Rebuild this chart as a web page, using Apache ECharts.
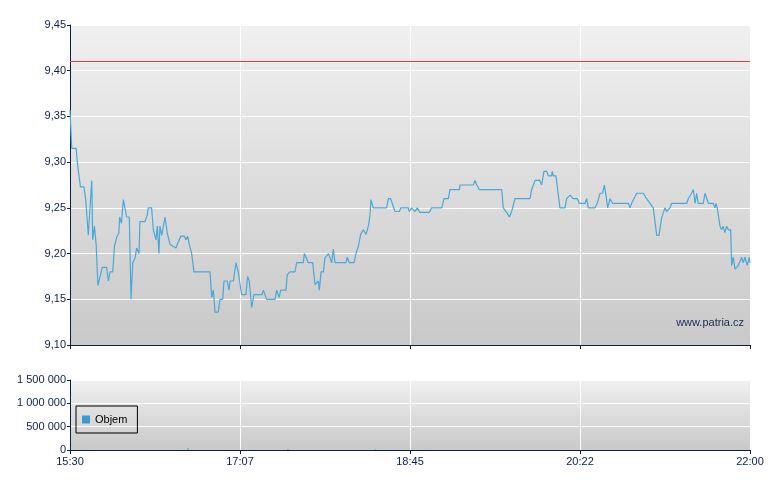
<!DOCTYPE html>
<html><head><meta charset="utf-8">
<script src="https://cdn.jsdelivr.net/npm/echarts@6/dist/echarts.min.js"></script>
<style>html,body{margin:0;padding:0;background:#fff}#c{width:780px;height:490px}</style>
</head><body><div id="c"></div>
<script>
const xTickLabels = ['15:30','17:07','18:45','20:22','22:00'];
const yTicks = [9.10,9.15,9.20,9.25,9.30,9.35,9.40,9.45];
const refLevel = 9.41;
const minutes = [0,1,3.5,4.5,6,8,9,10.5,12,12.5,13,14,15,16,17,18.5,21,22,23,24.5,25.5,27,28,28.5,29.5,30.6,31.2,32.5,34,35,36,37.3,38.2,39.6,40.1,43,44.3,44.9,46.8,47.8,49.3,50.1,51,51.6,52.6,54.5,55.8,57.4,60.8,61.5,63.5,65.6,66.5,67.5,68.4,69.8,71.1,80.3,81.3,82.2,83.2,85,86,87.6,88.3,90.2,91.2,91.8,93.7,95.2,96.5,97.5,98.4,100.9,101.9,102.8,104.2,105.5,110.1,110.9,112.8,117.6,118.5,120,120.8,123.9,124.6,126.2,129,130,133.8,134.4,135.3,136.7,139.2,140.5,142.4,143,144,145.3,146.2,147.2,148.2,150.1,151,152,154.8,158.3,159,160.2,162.9,164,165.4,166.7,168.2,169.8,171.1,172,172.6,173.9,181.6,182.6,183.9,186.4,188.9,189.7,194,194.6,195.9,197.9,199.2,200.7,206.1,207.4,213.2,214.5,217,217.9,223.3,223.7,231.3,232.3,233.3,234.7,247.6,248.5,250.4,252,253.3,255.2,263.8,264.8,266.7,269.5,270.5,271.8,273.4,274.3,276.2,276.6,277.2,278.7,281,283.9,284.8,286.8,288.6,291,292.1,295.4,296.3,297.3,301.1,302.4,304,305.5,306.5,307.2,308.4,309.7,311.2,320.2,321.2,322.1,325,328.8,330.7,334.5,336.5,337.8,339.3,341.2,342.2,344.1,345.1,353.7,354.6,356.5,357.5,358.5,359.4,360.3,363.2,364.2,366.1,368.9,369.9,370.5,371.2,372.8,373.7,374.6,375.6,376.6,377.5,378.9,379.5,380.4,381.4,383.3,385.2,386.1,387.1,388.4,389.6,390];
const prices = [9.357,9.315,9.315,9.295,9.273,9.273,9.259,9.22,9.266,9.28,9.215,9.23,9.21,9.165,9.165,9.185,9.185,9.17,9.18,9.18,9.208,9.219,9.222,9.24,9.233,9.259,9.26,9.24,9.24,9.15,9.19,9.195,9.206,9.20,9.235,9.235,9.242,9.25,9.25,9.226,9.215,9.23,9.20,9.23,9.22,9.24,9.222,9.21,9.206,9.21,9.219,9.219,9.215,9.219,9.21,9.20,9.18,9.18,9.152,9.16,9.136,9.136,9.15,9.15,9.17,9.17,9.16,9.17,9.17,9.19,9.18,9.18,9.155,9.155,9.175,9.17,9.141,9.155,9.155,9.16,9.15,9.15,9.16,9.152,9.16,9.16,9.177,9.18,9.18,9.19,9.19,9.20,9.20,9.19,9.19,9.166,9.17,9.16,9.18,9.18,9.195,9.195,9.20,9.19,9.205,9.19,9.19,9.19,9.196,9.19,9.19,9.20,9.208,9.221,9.226,9.221,9.23,9.241,9.259,9.25,9.25,9.26,9.26,9.246,9.246,9.25,9.25,9.246,9.25,9.246,9.25,9.245,9.245,9.25,9.25,9.26,9.26,9.27,9.27,9.275,9.275,9.28,9.275,9.27,9.27,9.25,9.245,9.24,9.246,9.26,9.26,9.27,9.28,9.28,9.275,9.29,9.29,9.285,9.285,9.29,9.285,9.285,9.25,9.25,9.26,9.264,9.26,9.26,9.255,9.255,9.26,9.25,9.25,9.255,9.266,9.266,9.275,9.266,9.25,9.26,9.255,9.255,9.25,9.255,9.266,9.266,9.26,9.25,9.22,9.22,9.239,9.25,9.246,9.25,9.255,9.255,9.26,9.266,9.27,9.255,9.266,9.255,9.255,9.266,9.255,9.255,9.25,9.255,9.25,9.23,9.226,9.23,9.223,9.23,9.226,9.226,9.187,9.196,9.183,9.187,9.196,9.19,9.196,9.187,9.196,9.19];
const volMinutes = [67.7,125,175];
const volumes = [40000,20000,15000];

const navy = '#0a1f4e';
const bg = {type:'linear',x:0,y:0,x2:0,y2:1,colorStops:[{offset:0,color:'#f0f0f0'},{offset:1,color:'#c9c9c9'}]};
const fmtMin = v => { const i = Math.round(v/97.5); return xTickLabels[i] || ''; };
const chart = echarts.init(document.getElementById('c'));
chart.setOption({
  animation:false,
  textStyle:{fontFamily:'Liberation Sans, Arial, sans-serif'},
  grid:[
    {left:70,right:30,top:25,height:320,show:true,backgroundColor:bg,borderWidth:0},
    {left:70,right:30,top:380,height:70,show:true,backgroundColor:bg,borderWidth:0}
  ],
  legend:{gridIndex:1,left:76,top:406,orient:'vertical',data:['Objem'],itemWidth:8,itemHeight:8,icon:'rect',
    borderColor:'#000',borderWidth:1,padding:[8,10,8,6],backgroundColor:'rgba(0,0,0,0)',
    textStyle:{fontSize:11,color:'#000'},itemGap:4},
  xAxis:[
    {type:'value',gridIndex:0,min:0,max:390,interval:97.5,
     axisLine:{lineStyle:{color:navy}},axisTick:{show:true,length:4,lineStyle:{color:navy}},axisLabel:{show:false},
     splitLine:{lineStyle:{color:'#fff',width:1}}},
    {type:'value',gridIndex:1,min:0,max:390,interval:97.5,
     axisLine:{lineStyle:{color:navy}},axisTick:{show:true,length:4,lineStyle:{color:navy}},
     axisLabel:{color:navy,fontSize:11,formatter:fmtMin,margin:6},
     splitLine:{lineStyle:{color:'#fff',width:1}}}
  ],
  yAxis:[
    {type:'value',gridIndex:0,min:9.10,max:9.45,interval:0.05,
     axisLine:{show:true,lineStyle:{color:navy}},axisTick:{show:true,length:3,lineStyle:{color:navy}},
     axisLabel:{color:navy,fontSize:11,margin:4,formatter:v=>v.toFixed(2).replace('.',',')},
     splitLine:{lineStyle:{color:'#fff',width:1}}},
    {type:'value',gridIndex:1,min:0,max:1500000,interval:500000,
     axisLine:{show:true,lineStyle:{color:navy}},axisTick:{show:true,length:3,lineStyle:{color:navy}},
     axisLabel:{color:navy,fontSize:11,margin:4,formatter:v=>String(v).replace(/\B(?=(\d{3})+(?!\d))/g,' ')},
     splitLine:{lineStyle:{color:'#fff',width:1}}}
  ],
  graphic:[{type:'text',right:36,top:317,style:{text:'www.patria.cz',fontSize:11,fill:'#1a2a5a',fontFamily:'Liberation Sans, Arial'}}],
  series:[
    {type:'line',xAxisIndex:0,yAxisIndex:0,data:minutes.map((m,i)=>[m,prices[i]]),showSymbol:false,
     lineStyle:{color:'#4aa8d8',width:1.2},
     markLine:{symbol:'none',silent:true,label:{show:false},lineStyle:{color:'#e04040',type:'solid',width:1.2},data:[{yAxis:refLevel}]}},
    {type:'bar',name:'Objem',xAxisIndex:1,yAxisIndex:1,data:volMinutes.map((m,i)=>[m,volumes[i]]),barWidth:1,
     itemStyle:{color:'#3a9ad0',borderColor:'#000',borderWidth:0}}
  ]
});
</script></body></html>
